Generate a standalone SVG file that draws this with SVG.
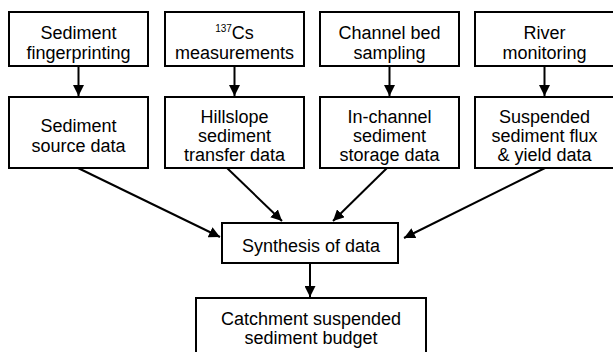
<svg xmlns="http://www.w3.org/2000/svg" width="613" height="352" viewBox="0 0 613 352">
  <style>
    .box { fill: #fff; stroke: #000; stroke-width: 2; }
    .lbl { font-family: "Liberation Sans", Arial, Helvetica, sans-serif; font-size: 18px; fill: #000; text-anchor: middle; }
    .sup { font-size: 10px; }
    .edge { stroke: #000; stroke-width: 2; fill: none; marker-end: url(#arrow); }
  </style>
  <defs>
    <marker id="arrow" viewBox="0 0 10 10" refX="10" refY="5" markerWidth="5.5" markerHeight="5.5" orient="auto" markerUnits="strokeWidth">
      <path d="M0,0 L10,5 L0,10 Z" fill="#000"/>
    </marker>
  </defs>
  <rect width="613" height="352" fill="#fff"/>

  <!-- connectors -->
  <g id="connectors">
    <line class="edge" x1="78.5" y1="66" x2="78.5" y2="96"/>
    <line class="edge" x1="234.5" y1="66" x2="234.5" y2="96"/>
    <line class="edge" x1="389.5" y1="66" x2="389.5" y2="96"/>
    <line class="edge" x1="544.5" y1="66" x2="544.5" y2="96"/>
    <line class="edge" x1="78" y1="168" x2="220" y2="237"/>
    <line class="edge" x1="227" y1="168" x2="282" y2="221"/>
    <line class="edge" x1="387" y1="168" x2="333" y2="221"/>
    <line class="edge" x1="545" y1="168" x2="404" y2="238"/>
    <line class="edge" x1="310" y1="263" x2="310" y2="297"/>
  </g>

  <!-- top row: methods -->
  <g id="fingerprinting">
    <rect class="box" x="9" y="12" width="139" height="54"/>
    <text class="lbl" x="78.5" y="39">Sediment</text>
    <text class="lbl" x="78.5" y="59">fingerprinting</text>
  </g>
  <g id="cs137">
    <rect class="box" x="165" y="12" width="139" height="54"/>
    <text class="lbl" x="234.5" y="39"><tspan class="sup" dy="-7">137</tspan><tspan dy="7">Cs</tspan></text>
    <text class="lbl" x="234.5" y="59">measurements</text>
  </g>
  <g id="channel-bed">
    <rect class="box" x="320" y="12" width="139" height="54"/>
    <text class="lbl" x="389.5" y="39">Channel bed</text>
    <text class="lbl" x="389.5" y="59">sampling</text>
  </g>
  <g id="river-monitoring">
    <rect class="box" x="475" y="12" width="139" height="54"/>
    <text class="lbl" x="544.5" y="39">River</text>
    <text class="lbl" x="544.5" y="59">monitoring</text>
  </g>

  <!-- second row: data sets -->
  <g id="source-data">
    <rect class="box" x="9" y="97" width="139" height="71"/>
    <text class="lbl" x="78.5" y="132">Sediment</text>
    <text class="lbl" x="78.5" y="152">source data</text>
  </g>
  <g id="hillslope-data">
    <rect class="box" x="165" y="97" width="139" height="71"/>
    <text class="lbl" x="234.5" y="123">Hillslope</text>
    <text class="lbl" x="234.5" y="142">sediment</text>
    <text class="lbl" x="234.5" y="161">transfer data</text>
  </g>
  <g id="storage-data">
    <rect class="box" x="320" y="97" width="139" height="71"/>
    <text class="lbl" x="389.5" y="123">In-channel</text>
    <text class="lbl" x="389.5" y="142">sediment</text>
    <text class="lbl" x="389.5" y="161">storage data</text>
  </g>
  <g id="flux-data">
    <rect class="box" x="475" y="97" width="139" height="71"/>
    <text class="lbl" x="544.5" y="123">Suspended</text>
    <text class="lbl" x="544.5" y="142">sediment flux</text>
    <text class="lbl" x="544.5" y="161">&amp; yield data</text>
  </g>

  <!-- synthesis and result -->
  <g id="synthesis">
    <rect class="box" x="222" y="223" width="176" height="40"/>
    <text class="lbl" x="311" y="252">Synthesis of data</text>
  </g>
  <g id="budget">
    <rect class="box" x="196" y="298" width="230" height="70"/>
    <text class="lbl" x="311" y="325">Catchment suspended</text>
    <text class="lbl" x="311" y="344">sediment budget</text>
  </g>
</svg>
